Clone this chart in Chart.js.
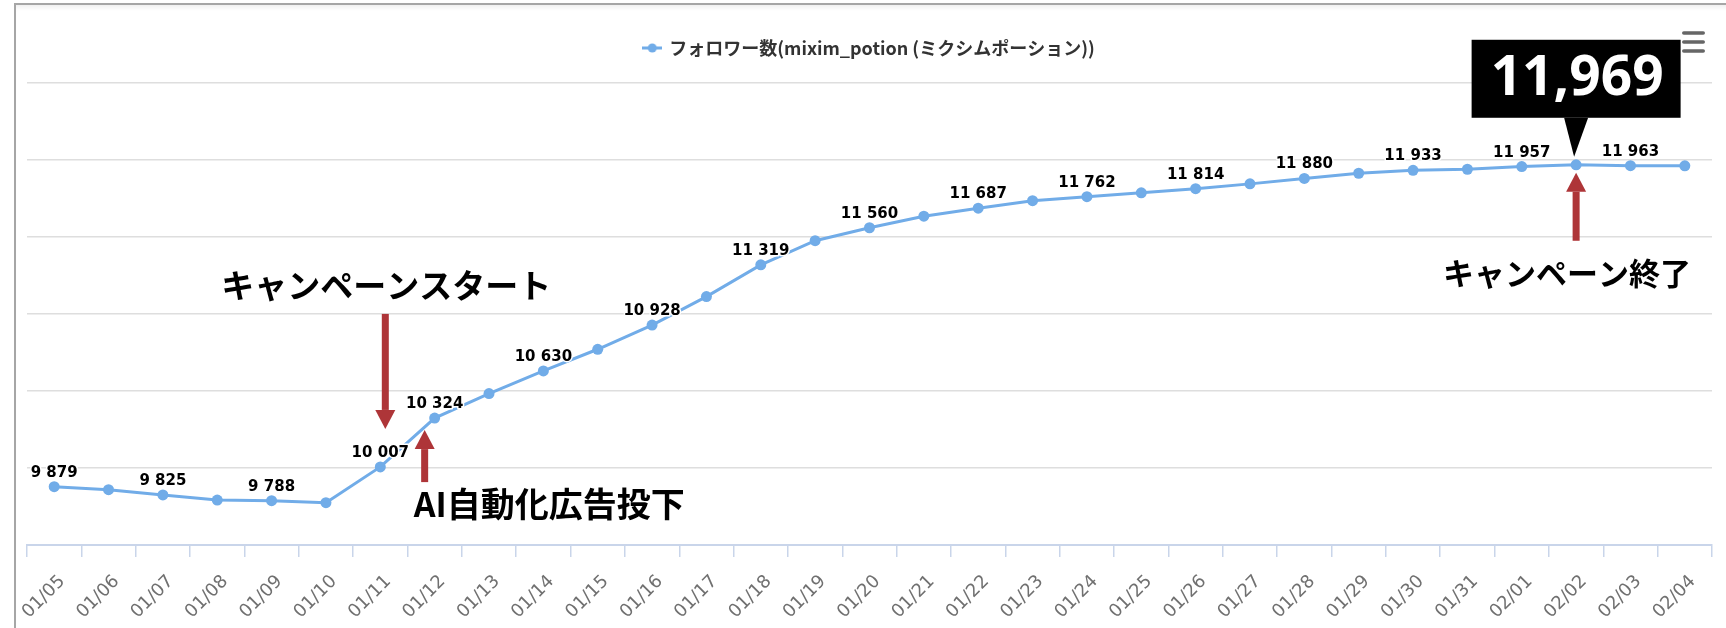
<!DOCTYPE html>
<html>
<head>
<meta charset="utf-8">
<script src="https://cdn.jsdelivr.net/npm/chart.js@4.4.0/dist/chart.umd.min.js"></script>
<style>
html, body { margin: 0; padding: 0; background: #fff; }
#wrap { position: relative; width: 1726px; height: 628px; overflow: hidden; }
#wrap canvas { position: absolute; left: 0; top: 0; }
#frame { position: absolute; left: 14px; top: 3px; right: -10px; bottom: -10px;
         border-top: 2px solid #a6a6a6; border-left: 2px solid #a6a6a6; pointer-events: none;
         box-shadow: inset 0 5px 5px -3px #eeeeee; }
</style>
</head>
<body>
<div id="wrap">
    <canvas id="followerChart" width="1726" height="628"></canvas>
    <div id="frame"></div>
</div>
<script>
const dates = [
    "01/05", "01/06", "01/07", "01/08", "01/09", "01/10", "01/11", "01/12",
    "01/13", "01/14", "01/15", "01/16", "01/17", "01/18", "01/19", "01/20",
    "01/21", "01/22", "01/23", "01/24", "01/25", "01/26", "01/27", "01/28",
    "01/29", "01/30", "01/31", "02/01", "02/02", "02/03", "02/04"
];
const followers = [
    9879, 9859, 9825, 9792, 9788, 9775, 10007, 10324,
    10483, 10630, 10771, 10928, 11113, 11319, 11476, 11560,
    11635, 11687, 11736, 11762, 11787, 11814, 11845, 11880,
    11914, 11933, 11940, 11957, 11969, 11963, 11962
];
const seriesName = "フォロワー数(mixim_potion (ミクシムポーション))";
const yTicks = [9500, 10000, 10500, 11000, 11500, 12000, 12500];

const startDate = "01/11";
const startText = "キャンペーンスタート";
const adsDate = "01/12";
const adsText = "AI自動化広告投下";
const endDate = "02/02";
const endText = "キャンペーン終了";
const peakText = "11,969";

const lineColor = "#71ace8";
const arrowColor = "#ae3538";

// space as thousands separator, like "11 319"
const fmt = v => String(v).replace(/\B(?=(\d{3})+(?!\d))/g, " ");

// legend marker: short line with a dot
const legendMark = document.createElement("canvas");
legendMark.width = 20;
legendMark.height = 10;
const lm = legendMark.getContext("2d");
lm.strokeStyle = lineColor;
lm.lineWidth = 3;
lm.beginPath(); lm.moveTo(0, 5); lm.lineTo(20, 5); lm.stroke();
lm.fillStyle = lineColor;
lm.beginPath(); lm.arc(10, 5, 4.5, 0, Math.PI * 2); lm.fill();

// make the legend take the whole band above the plot
const legendSpace = {
    id: "legendSpace",
    beforeInit(chart) {
        const fit = chart.legend.fit;
        chart.legend.fit = function () {
            fit.call(this);
            this.height = 83;
        };
    }
};

// value labels, skipping ones that would collide
const dataLabels = {
    id: "dataLabels",
    afterDatasetsDraw(chart) {
        const ctx = chart.ctx;
        const meta = chart.getDatasetMeta(0);
        const boxes = [];
        ctx.save();
        ctx.font = "bold 15px 'DejaVu Sans'";
        ctx.textAlign = "center";
        ctx.textBaseline = "alphabetic";
        ctx.lineJoin = "round";
        meta.data.forEach((pt, i) => {
            if (dates[i] === endDate) return;
            const text = fmt(followers[i]);
            const w = ctx.measureText(text).width + 12;
            const base = pt.y - 10;
            const box = { l: pt.x - w / 2, r: pt.x + w / 2, t: base - 11 - 9, b: base + 9 };
            if (boxes.some(b => box.l < b.r && box.r > b.l && box.t < b.b && box.b > b.t)) return;
            boxes.push(box);
            ctx.strokeStyle = "#fff";
            ctx.lineWidth = 3;
            ctx.strokeText(text, pt.x, base);
            ctx.fillStyle = "#000";
            ctx.fillText(text, pt.x, base);
        });
        ctx.restore();
    }
};

function drawArrow(ctx, x, tail, tip) {
    const dir = tip > tail ? 1 : -1;
    const headH = 19, headW = 20, shaft = 7;
    ctx.fillStyle = arrowColor;
    ctx.fillRect(x - shaft / 2, Math.min(tail, tip - dir * headH), shaft, Math.abs(tip - dir * headH - tail));
    ctx.beginPath();
    ctx.moveTo(x, tip);
    ctx.lineTo(x - headW / 2, tip - dir * headH);
    ctx.lineTo(x + headW / 2, tip - dir * headH);
    ctx.closePath();
    ctx.fill();
}

function note(ctx, text, x, y, size, align) {
    ctx.fillStyle = "#000";
    ctx.font = "bold " + size + "px 'Noto Sans CJK JP'";
    ctx.textAlign = align;
    ctx.textBaseline = "middle";
    ctx.fillText(text, x, y);
}

const annotations = {
    id: "annotations",
    afterDraw(chart) {
        const { ctx, scales: { x, y } } = chart;
        const px = d => x.getPixelForValue(dates.indexOf(d));
        const py = d => y.getPixelForValue(followers[dates.indexOf(d)]);
        ctx.save();

        // campaign start
        const sx = px(startDate) + 5;
        const sTip = py(startDate) - 38;
        drawArrow(ctx, sx, sTip - 115, sTip);
        note(ctx, startText, sx + 1, sTip - 115 - 28, 33, "center");

        // ads
        const ax = px(adsDate) - 10;
        const aTip = py(adsDate) + 12;
        drawArrow(ctx, ax, aTip + 52, aTip);
        note(ctx, adsText, ax - 11, aTip + 52 + 22, 34, "left");

        // campaign end
        const ex = px(endDate);
        const eTip = py(endDate) + 8;
        drawArrow(ctx, ex, eTip + 68, eTip);
        note(ctx, endText, ex - 9, eTip + 68 + 32, 31, "center");

        // callout above the peak
        const cTip = py(endDate) - 8;
        const boxBottom = cTip - 39;
        const boxW = 209, boxH = 78;
        ctx.fillStyle = "#000";
        ctx.fillRect(ex - boxW / 2, boxBottom - boxH, boxW, boxH);
        ctx.beginPath();
        ctx.moveTo(ex - 12, boxBottom);
        ctx.lineTo(ex + 12, boxBottom);
        ctx.lineTo(ex - 2, cTip);
        ctx.closePath();
        ctx.fill();
        ctx.fillStyle = "#fff";
        ctx.font = "bold 55px 'Noto Sans'";
        ctx.textAlign = "center";
        ctx.textBaseline = "alphabetic";
        ctx.fillText(peakText, ex + 1, boxBottom - 23);

        // menu icon
        ctx.fillStyle = "#666";
        [33, 42, 51].forEach(by => {
            ctx.beginPath();
            ctx.roundRect(1682, by - 1.75, 23, 3.5, 1.75);
            ctx.fill();
        });
        ctx.restore();
    }
};

const ctx = document.getElementById("followerChart").getContext("2d");
new Chart(ctx, {
    type: "line",
    data: {
        labels: dates,
        datasets: [{
            label: seriesName,
            data: followers,
            borderColor: lineColor,
            backgroundColor: lineColor,
            borderWidth: 3,
            pointRadius: 5.5,
            pointBorderWidth: 0,
            pointBackgroundColor: lineColor,
            tension: 0
        }]
    },
    options: {
        responsive: false,
        animation: false,
        layout: { padding: { left: 27, right: 14, top: 0, bottom: 0 } },
        plugins: {
            legend: {
                display: true,
                position: "top",
                labels: {
                    usePointStyle: true,
                    pointStyle: legendMark,
                    boxWidth: 16,
                    padding: 39,
                    color: "#333",
                    font: { family: "'Noto Sans CJK JP'", size: 18, weight: "bold" }
                }
            },
            tooltip: { enabled: false }
        },
        scales: {
            x: {
                offset: true,
                afterFit(scale) { scale.height = 83; },
                grid: {
                    offset: true,
                    drawOnChartArea: false,
                    drawTicks: true,
                    tickLength: 12,
                    color: "#c9d5ea",
                    lineWidth: 1.5
                },
                border: { display: true, color: "#c9d5ea", width: 2 },
                ticks: {
                    autoSkip: false,
                    maxRotation: 45,
                    minRotation: 45,
                    padding: 14,
                    labelOffset: 8,
                    color: "#707070",
                    font: { family: "'DejaVu Sans'", size: 18 }
                }
            },
            y: {
                min: yTicks[0],
                max: yTicks[yTicks.length - 1],
                afterBuildTicks(scale) { scale.ticks = yTicks.map(v => ({ value: v })); },
                grid: { color: "#dedede", lineWidth: 1.5, drawTicks: false },
                border: { display: false },
                ticks: { display: false }
            }
        }
    },
    plugins: [legendSpace, dataLabels, annotations]
});
</script>
</body>
</html>
